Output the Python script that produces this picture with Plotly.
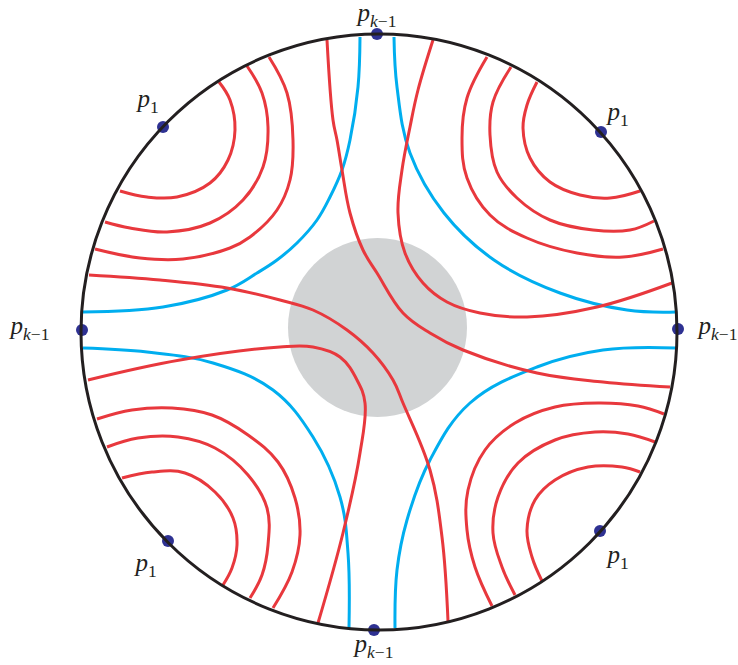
import plotly.graph_objects as go

# Pixel-space geometry (x right, y down)
circle_center = (379, 332)
circle_radius = 298
disk_center = (377.5, 327.5)
disk_radius = 89.5

# Marked boundary points
pk_x = [377, 374, 82, 678]
pk_y = [34, 630, 330, 329]
p1_x = [163, 601, 168, 600]
p1_y = [127, 132, 541, 531]

# Blue curves
blue_curves = {
    "TL": ([360, 358, 350, 342, 330, 317, 297, 277, 257, 227, 163, 83],
           [37, 87, 140, 170, 197, 220, 243, 260, 273, 290, 307, 312]),
    "TR": ([394, 397, 410, 444, 494, 560, 627, 676], [37, 87, 153, 213, 260, 293, 310, 312]),
    "BL": ([83, 147, 213, 273, 313, 340, 348, 349], [348, 352, 363, 390, 437, 497, 553, 628]),
    "BR": ([676, 603, 537, 470, 430, 407, 397, 395], [348, 350, 367, 403, 460, 520, 570, 628]),
}

# Red curves
red_curves = {
    "TL1": ([219, 230, 235, 228, 210, 177, 147, 120], [82, 100, 130, 160, 183, 197, 197, 191]),
    "TL2": ([247, 262, 268, 263, 243, 210, 167, 130, 105], [66, 93, 127, 167, 200, 223, 232, 228, 222]),
    "TL3": ([269, 287, 293, 290, 277, 250, 230, 183, 140, 95], [57, 93, 140, 180, 210, 237, 248, 259, 258, 249]),
    "TR1": ([537, 527, 523, 530, 550, 580, 610, 640], [82, 105, 128, 158, 182, 195, 198, 191]),
    "TR2": ([511, 493, 490, 497, 517, 550, 593, 630, 654], [67, 102, 135, 172, 198, 220, 230, 230, 221]),
    "TR3": ([487, 467, 462, 467, 490, 527, 577, 623, 663], [57, 98, 138, 178, 215, 238, 253, 257, 249]),
    "BL1": ([122, 152, 185, 215, 233, 237, 232, 223], [478, 472, 473, 492, 518, 545, 568, 585]),
    "BL2": ([107, 138, 178, 215, 248, 267, 268, 262, 250], [447, 438, 437, 448, 475, 508, 545, 575, 598]),
    "BL3": ([97, 132, 172, 212, 248, 278, 295, 300, 292, 273], [419, 410, 408, 415, 435, 462, 498, 535, 572, 608]),
    "BR1": ([640, 622, 588, 555, 535, 527, 532, 542], [472, 467, 467, 480, 500, 530, 557, 581]),
    "BR2": ([655, 628, 595, 555, 518, 498, 493, 502, 515], [442, 434, 432, 440, 463, 497, 533, 567, 595]),
    "BR3": ([664, 638, 598, 555, 515, 485, 468, 467, 475, 492], [414, 406, 403, 407, 423, 450, 490, 530, 567, 606]),
    "A": ([327, 333, 337, 342, 350, 363, 377, 403, 430, 463, 537, 603, 670],
          [40, 120, 140, 170, 213, 250, 273, 313, 333, 350, 373, 382, 387]),
    "B": ([89, 160, 227, 280, 313, 347, 373, 393, 403, 430, 442, 448],
          [275, 280, 288, 300, 310, 330, 353, 380, 403, 470, 537, 621]),
    "C": ([433, 418, 410, 402, 398, 405, 423, 447, 480, 527, 597, 672],
          [40, 90, 127, 170, 213, 253, 283, 302, 313, 317, 307, 283]),
    "D": ([88, 180, 280, 313, 340, 357, 365, 360, 343, 318],
          [380, 360, 347, 347, 357, 380, 403, 453, 533, 623]),
}

# Labels
label_text = ["<i>p</i><sub><i>k</i>−1</sub>"] * 4 + ["<i>p</i><sub>1</sub>"] * 4
label_x = [377, 374, 30, 718, 148, 618, 146, 618]
label_y = [15, 646, 328, 328, 101, 114, 565, 557]

RED = "#e8383d"
BLUE = "#00aeef"
BLACK = "#231f20"
NAVY = "#2e3192"
GRAY = "#d1d3d4"
SMOOTH = 1.1

fig = go.Figure()

cx, cy = disk_center
fig.add_shape(type="circle", xref="x", yref="y",
              x0=cx - disk_radius, x1=cx + disk_radius,
              y0=cy - disk_radius, y1=cy + disk_radius,
              fillcolor=GRAY, line=dict(width=0), layer="below")

for name, (xs, ys) in blue_curves.items():
    fig.add_trace(go.Scatter(x=xs, y=ys, mode="lines",
                             line=dict(color=BLUE, width=3, shape="spline", smoothing=SMOOTH),
                             hoverinfo="skip", showlegend=False))
for name, (xs, ys) in red_curves.items():
    fig.add_trace(go.Scatter(x=xs, y=ys, mode="lines",
                             line=dict(color=RED, width=3, shape="spline", smoothing=SMOOTH),
                             hoverinfo="skip", showlegend=False))

ox, oy = circle_center
fig.add_shape(type="circle", xref="x", yref="y",
              x0=ox - circle_radius, x1=ox + circle_radius,
              y0=oy - circle_radius, y1=oy + circle_radius,
              line=dict(color=BLACK, width=3), layer="above")

fig.add_trace(go.Scatter(x=pk_x + p1_x, y=pk_y + p1_y, mode="markers",
                         marker=dict(color=NAVY, size=12),
                         hoverinfo="skip", showlegend=False))

fig.add_trace(go.Scatter(x=label_x, y=label_y, mode="text", text=label_text,
                         textfont=dict(family="Liberation Serif", size=25, color=BLACK),
                         hoverinfo="skip", showlegend=False))

fig.update_layout(
    width=738, height=665,
    margin=dict(l=0, r=0, t=0, b=0),
    paper_bgcolor="white", plot_bgcolor="white",
    xaxis=dict(range=[0, 738], visible=False, fixedrange=True),
    yaxis=dict(range=[665, 0], visible=False, fixedrange=True),
)

fig.write_html("out.html", config={"displayModeBar": False, "staticPlot": True},
               post_script="document.body.style.margin='0';document.body.style.overflow='hidden';")
